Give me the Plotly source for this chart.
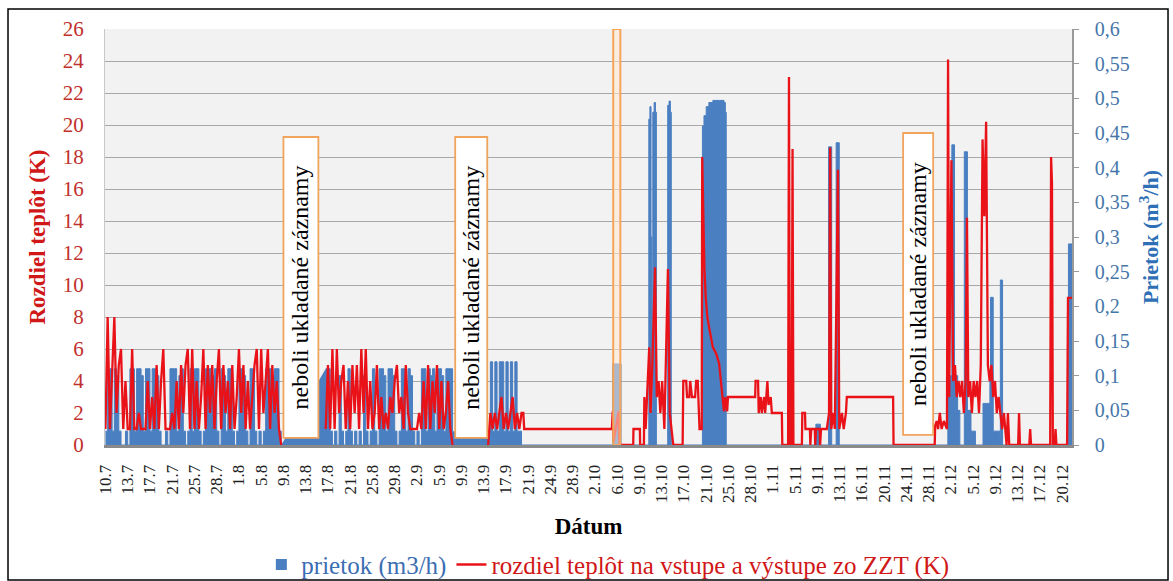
import plotly.graph_objects as go

# ---------------- data ----------------
tick_labels = ["10.7", "13.7", "17.7", "21.7", "25.7", "28.7", "1.8", "5.8", "9.8", "13.8",
               "17.8", "21.8", "25.8", "29.8", "2.9", "5.9", "9.9", "13.9", "17.9", "21.9",
               "24.9", "28.9", "2.10", "6.10", "9.10", "13.10", "17.10", "21.10", "25.10", "28.10",
               "1.11", "5.11", "9.11", "13.11", "16.11", "20.11", "24.11", "28.11", "2.12", "5.12",
               "9.12", "13.12", "17.12", "20.12"]

step = 0.1  # sampling step of dense records (in axis-label units)

# dense block 1 (10.7 - 8.8)
dense1_start = 0.0
temp_1 = [1, 8, 1, 4, 8, 2, 5, 6, 1, 4, 1, 1, 6, 1, 1, 2, 1, 1, 1, 4,
          1, 3, 1, 5, 1, 4, 6, 1, 1, 1, 2, 1, 4, 1, 5, 2, 5, 6, 1, 6,
          1, 4, 1, 3, 6, 1, 5, 2, 5, 1, 4, 6, 1, 5, 2, 4, 1, 5, 1, 3,
          6, 2, 5, 1, 4, 1, 3, 5, 6, 1, 6, 2, 4, 6, 1, 5, 2, 4, 1, 0]
flow_1 = [0.02, 0.10, 0.11, 0.02, 0.11, 0.10, 0.02, 0, 0, 0.02,
          0, 0.11, 0.11, 0.02, 0.11, 0.11, 0.10, 0.02, 0.11, 0.11,
          0.02, 0.11, 0.11, 0.10, 0.02, 0, 0, 0.02, 0, 0.11,
          0.11, 0.11, 0.02, 0.10, 0.11, 0.02, 0, 0.02, 0.11, 0.02,
          0.11, 0.11, 0.02, 0, 0.02, 0.11, 0.11, 0.11, 0.10, 0.11,
          0.02, 0, 0.11, 0.10, 0.02, 0.11, 0.11, 0.02, 0, 0.02,
          0.11, 0.11, 0.10, 0.02, 0, 0.11, 0.11, 0.02, 0, 0.02,
          0, 0.02, 0.11, 0.11, 0.11, 0.10, 0.11, 0.11, 0.02, 0]

# dense block 2 (15.8 - 9.9)
dense2_start = 9.9
temp_2 = [1, 5, 1, 6, 1, 6, 2, 4, 5, 1, 4, 1, 5, 2, 5, 1, 6, 2, 6, 1,
          4, 1, 2, 5, 1, 3, 1, 2, 1, 3, 2, 4, 5, 2, 3, 1, 5, 2, 1, 1,
          1, 1, 2, 1, 4, 1, 5, 1, 4, 2, 5, 1, 4, 1, 2, 4, 1, 0]
flow_2 = [0.11, 0.11, 0.02, 0, 0.02, 0, 0.10, 0.02, 0, 0.02,
          0.11, 0.02, 0, 0.02, 0, 0.02, 0, 0.10, 0.02, 0,
          0.02, 0.11, 0.02, 0, 0.11, 0.11, 0.10, 0.02, 0.11, 0.11,
          0.10, 0.02, 0, 0.02, 0.11, 0.11, 0.02, 0.11, 0.10, 0.02,
          0, 0.02, 0, 0.11, 0.11, 0.02, 0.11, 0.10, 0.11, 0.02,
          0.11, 0.11, 0.10, 0.02, 0.11, 0.11, 0.11, 0.02]

# dense block 3 (17.9 - 21.9)
dense3_start = 17.2
temp_3 = [0, 2, 1, 2, 1, 2, 3, 1, 2, 1, 2, 3, 1, 2, 1, 2]
flow_3 = [0.02, 0.12, 0.02, 0.12, 0.02, 0.12, 0.12, 0.02, 0.12, 0.02, 0.12, 0.02, 0.12, 0.02, 0.02, 0]

# sparse records after 21.9
temp_sparse_x = [18.78, 18.82, 22.76, 22.80, 22.84, 23.06, 23.10,
                 23.72, 23.73, 24.02, 24.03,
                 24.20, 24.22, 24.28, 24.34, 24.44, 24.50, 24.58, 24.70, 24.78, 24.86, 24.94, 25.02, 25.12,
                 25.28, 25.36, 25.44, 25.52,
                 25.94, 25.97, 26.10, 26.14, 26.24, 26.28, 26.36, 26.50, 26.55, 26.62, 26.70, 26.80,
                 26.82, 26.86, 26.92, 26.98, 27.05, 27.15, 27.30, 27.45, 27.58, 27.66, 27.74, 27.80,
                 27.86, 27.94, 27.98, 29.20, 29.22, 29.33, 29.36, 29.45, 29.50, 29.60, 29.65, 29.75,
                 29.80, 29.90, 29.95, 30.01, 30.40, 30.42,
                 30.68, 30.72, 30.76, 30.84, 30.88, 30.92,
                 31.30, 31.32, 31.44, 31.46, 31.66, 31.68, 31.72, 31.88, 31.90, 31.94, 32.10, 32.12,
                 32.16, 32.42, 32.52, 32.57, 32.62, 32.72, 32.78, 32.92, 32.98, 33.10, 33.18, 33.28,
                 33.32, 35.40, 35.42,
                 37.27, 37.29, 37.36, 37.42, 37.50, 37.58, 37.68, 37.82, 37.87, 37.92, 38.02, 38.10,
                 38.18, 38.26, 38.34, 38.42, 38.50, 38.58, 38.66, 38.72, 38.78, 38.86, 38.94, 39.02,
                 39.10, 39.18, 39.26, 39.34, 39.42, 39.50, 39.58, 39.66, 39.74, 39.82, 39.90, 39.98,
                 40.06, 40.14, 40.22, 40.30, 40.38, 40.44, 40.50, 40.56, 40.62,
                 41.02, 41.06, 41.10, 41.52, 41.56, 41.60,
                 42.46, 42.50, 42.54, 42.58, 42.66, 42.70, 42.74, 43.22, 43.26, 43.44]
temp_sparse_y = [2, 1, 1, 2.1, 0.2, 2.1, 0,
                 0, 1, 1, 0,
                 0, 3, 1, 3, 6.1, 2, 5.1, 11.1, 3, 4, 2, 4, 1,
                 11, 2, 1, 0,
                 0, 4, 4, 3, 3, 4, 3, 3, 4, 4, 1, 1,
                 18, 14, 11, 9.2, 8, 7.2, 6.1, 5.7, 5.1, 4, 3, 2.1,
                 3, 2.1, 3, 3, 4, 4, 2, 3, 2, 3, 2, 4,
                 2.5, 3, 2, 2, 2, 0,
                 0, 23, 0, 0, 18.5, 0,
                 0, 2, 2, 1, 1, 0, 1, 1, 0, 1, 1, 0,
                 1, 1, 2, 18.6, 1, 2, 1, 17.2, 1, 2, 1, 2,
                 3, 3, 0,
                 0, 1.2, 1.5, 1, 2, 1, 1.5, 1, 24.1, 3, 17.8, 4,
                 5, 3, 4, 3, 4, 2, 4, 14.2, 3, 4, 2, 4,
                 3, 4, 2, 5, 19.1, 14.3, 20.2, 5, 4, 5, 3, 4,
                 2, 3, 2, 1, 2, 1, 0, 2, 0,
                 0, 2, 0, 0, 1, 0,
                 0, 18, 16.4, 0, 0, 1, 0, 0, 9.2, 9.2]

flow_sparse_x = [18.78, 22.78, 22.80, 23.15, 23.17,
                 24.38, 24.42, 24.47, 24.52, 24.56, 24.60, 24.66, 24.72, 24.76,
                 25.22, 25.27, 25.33, 25.39, 25.43,
                 26.80, 26.83, 26.90, 27.00, 27.12, 27.30, 27.60, 27.80, 27.86, 27.90,
                 30.72, 30.75, 30.78,
                 31.90, 31.93, 32.10, 32.13,
                 32.45, 32.50, 32.60, 32.64, 32.80, 32.84, 32.94, 32.98,
                 37.82, 37.86, 37.98, 38.04, 38.12, 38.16, 38.30, 38.40, 38.56, 38.60, 38.70, 38.74,
                 38.90, 39.10, 39.40, 39.44, 39.60, 39.75, 39.78, 39.86, 39.90, 40.20, 40.22, 40.28, 40.32,
                 43.24, 43.28, 43.44]
flow_sparse_y = [0, 0, 0.117, 0.117, 0,
                 0, 0.47, 0.488, 0.30, 0.05, 0.48, 0.494, 0.48, 0,
                 0, 0.49, 0.496, 0.48, 0,
                 0, 0.46, 0.475, 0.488, 0.494, 0.497, 0.497, 0.494, 0.48, 0,
                 0, 0.05, 0,
                 0, 0.03, 0.03, 0,
                 0, 0.43, 0.43, 0, 0, 0.436, 0.436, 0,
                 0, 0.1, 0.1, 0.433, 0.433, 0.1, 0.05, 0, 0, 0.423, 0.423, 0.05,
                 0.02, 0, 0, 0.06, 0.06, 0.1, 0.213, 0.213, 0.02, 0, 0.238, 0.238, 0,
                 0, 0.29, 0.29]

left_ticks = [0, 2, 4, 6, 8, 10, 12, 14, 16, 18, 20, 22, 24, 26]
right_tickvals = [0, 0.05, 0.1, 0.15, 0.2, 0.25, 0.3, 0.35, 0.4, 0.45, 0.5, 0.55, 0.6]
right_ticktext = ["0", "0,05", "0,1", "0,15", "0,2", "0,25", "0,3", "0,35", "0,4", "0,45", "0,5", "0,55", "0,6"]

# "no records" notes
note_text = "neboli ukladané záznamy"
note_x0 = [8.0, 15.72, 35.85]
note_x1 = [9.57, 17.16, 37.20]
note_y0 = [0.44, 0.44, 0.63]
note_y1 = [19.25, 19.25, 19.5]
marker_box_x = [22.82, 23.14]

# ---------------- build series ----------------
def seq(start, vals):
    return [start + step * i for i in range(len(vals))]

temp_x = (seq(dense1_start, temp_1) + [None] + seq(dense2_start, temp_2) + [None]
          + seq(dense3_start, temp_3) + temp_sparse_x)
temp_y = temp_1 + [None] + temp_2 + [None] + temp_3 + temp_sparse_y
flow_x = (seq(dense1_start, flow_1) + [None] + seq(dense2_start, flow_2) + [None]
          + seq(dense3_start, flow_3) + flow_sparse_x)
flow_y = flow_1 + [None] + flow_2 + [None] + flow_3 + flow_sparse_y

BLUE = "#4a7fc1"
RED = "#ea1219"
SERIF = "Liberation Serif"
NAME_FLOW = '<span style="color:#3b6eb3">prietok (m3/h)</span>'
NAME_TEMP = '<span style="color:#d01818">rozdiel teplôt na vstupe a výstupe zo ZZT (K)</span>'

fig = go.Figure()
# base axis (grid + left labels) – placeholder with no marks
fig.add_trace(go.Scatter(x=[], y=[], yaxis="y", showlegend=False, hoverinfo="skip"))
# flow on right axis
fig.add_trace(go.Scatter(
    x=flow_x, y=flow_y, yaxis="y2", mode="lines", fill="tozeroy", line_shape="hv",
    line=dict(color=BLUE, width=1), fillcolor=BLUE, showlegend=False, connectgaps=False))
# temperature difference drawn on top (overlay axis sharing left scale)
fig.add_trace(go.Scatter(
    x=temp_x, y=temp_y, yaxis="y3", mode="lines",
    line=dict(color=RED, width=2.3), showlegend=False, connectgaps=False))
# legend entries
fig.add_trace(go.Scatter(x=[None], y=[None], yaxis="y2", mode="markers",
                         marker=dict(symbol="square", size=11, color=BLUE), name=NAME_FLOW))
fig.add_trace(go.Scatter(x=[None], y=[None], yaxis="y3", mode="lines",
                         line=dict(color=RED, width=2.5), name=NAME_TEMP))

shapes = []
for x0, x1, y0, y1 in zip(note_x0, note_x1, note_y0, note_y1):
    shapes.append(dict(type="rect", xref="x", yref="y", x0=x0, x1=x1, y0=y0, y1=y1,
                       fillcolor="white", line=dict(color="#f0a45c", width=1.8), layer="above"))
shapes.append(dict(type="rect", xref="x", yref="y", x0=marker_box_x[0], x1=marker_box_x[1],
                   y0=0, y1=26, fillcolor="rgba(255,232,210,0.55)",
                   line=dict(color="#f5a55a", width=2), layer="above"))
# outer chart frame
shapes.append(dict(type="rect", xref="paper", yref="paper", x0=-0.1003, x1=1.0993,
                   y0=-0.3245, y1=1.048, line=dict(color="black", width=1.5),
                   fillcolor="rgba(0,0,0,0)", layer="below"))

annotations = []
for x0, x1, y0, y1 in zip(note_x0, note_x1, note_y0, note_y1):
    annotations.append(dict(x=(x0 + x1) / 2, y=(y0 + y1) / 2, xref="x", yref="y",
                            text=note_text, textangle=-90, showarrow=False,
                            font=dict(family=SERIF, size=24, color="black")))

fig.update_layout(
    width=1173, height=581,
    margin=dict(l=105, r=101, t=29, b=136, autoexpand=False),
    paper_bgcolor="white", plot_bgcolor="#f2f2f2",
    font=dict(family=SERIF, size=20, color="black"),
    showlegend=True,
    legend=dict(orientation="h", x=0.52, xanchor="center", y=-0.288, yanchor="middle",
                font=dict(family=SERIF, size=25), bgcolor="rgba(0,0,0,0)",
                itemwidth=30, traceorder="normal", tracegroupgap=0),
    shapes=shapes, annotations=annotations,
    xaxis=dict(range=[-0.02, 43.44], tickvals=list(range(len(tick_labels))), ticktext=tick_labels,
               tickangle=-90, tickfont=dict(family=SERIF, size=17, color="#222"),
               showgrid=False, zeroline=False, showline=True, linecolor="#8a8a8a", linewidth=3,
               ticks="", ticklabelstandoff=10, automargin=False,
               title=dict(text="<b>Dátum</b>", font=dict(family=SERIF, size=23, color="black"),
                          standoff=16)),
    yaxis=dict(range=[0, 26], tickvals=left_ticks, showgrid=True, gridcolor="#a8a8a8", gridwidth=1.2,
               zeroline=False, showline=True, linecolor="#c8c8c8", linewidth=1, automargin=False,
               tickfont=dict(family=SERIF, size=21, color="#c0302c"), ticks="", ticklabelstandoff=16,
               title=dict(text="<b>Rozdiel teplôt (K)</b>",
                          font=dict(family=SERIF, size=23, color="#d01818"), standoff=10)),
    yaxis2=dict(range=[0, 0.6], overlaying="y", side="right", tickvals=right_tickvals,
                ticktext=right_ticktext, showgrid=False, zeroline=False, showline=True,
                linecolor="#9a9a9a", linewidth=1.5, ticks="outside", ticklen=5, tickcolor="#9a9a9a",
                tickfont=dict(family=SERIF, size=20, color="#4676a8"), ticklabelstandoff=12,
                automargin=False,
                title=dict(text="<b>Prietok (m<sup>3</sup>/h)</b>",
                           font=dict(family=SERIF, size=22, color="#2f6fb5"), standoff=14)),
    yaxis3=dict(range=[0, 26], overlaying="y", side="left", visible=False, showgrid=False,
                zeroline=False),
)

fig.write_html("out.html")
